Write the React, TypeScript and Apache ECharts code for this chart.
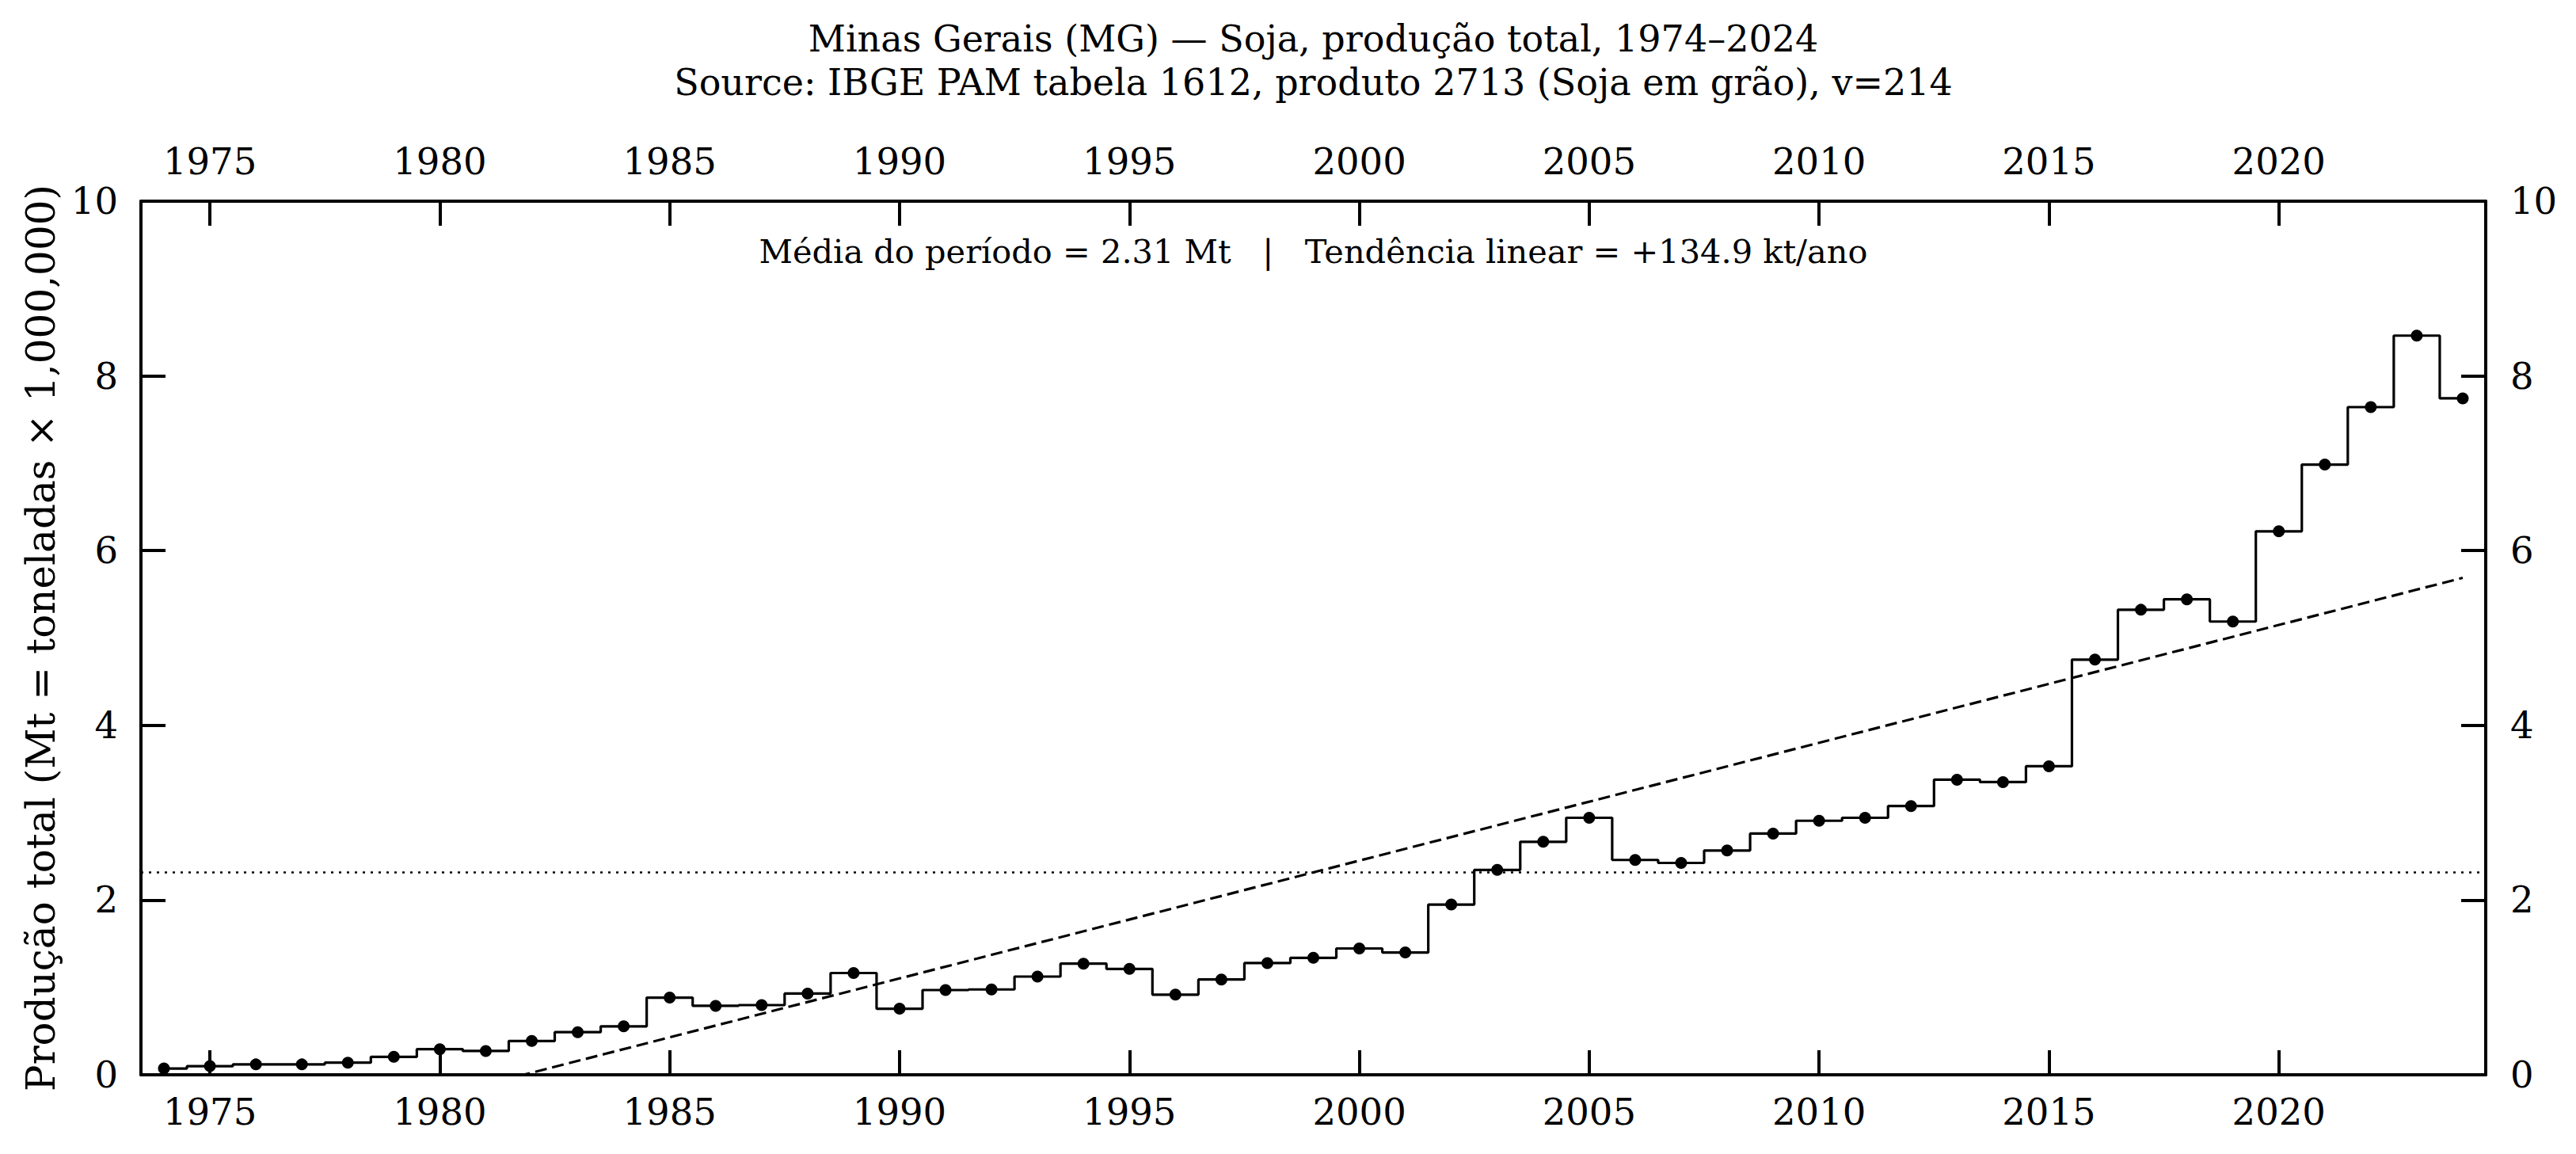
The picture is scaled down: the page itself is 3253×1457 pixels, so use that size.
import React, { useEffect, useRef } from "react";
import * as echarts from "echarts";

const years = [
  1974, 1975, 1976, 1977, 1978, 1979, 1980, 1981, 1982, 1983, 1984, 1985, 1986,
  1987, 1988, 1989, 1990, 1991, 1992, 1993, 1994, 1995, 1996, 1997, 1998, 1999,
  2000, 2001, 2002, 2003, 2004, 2005, 2006, 2007, 2008, 2009, 2010, 2011, 2012,
  2013, 2014, 2015, 2016, 2017, 2018, 2019, 2020, 2021, 2022, 2023, 2024,
];
// Production in Mt (million tonnes)
const production = [
  0.072, 0.099, 0.119, 0.119, 0.139, 0.206, 0.293, 0.273, 0.387, 0.488, 0.555,
  0.883, 0.789, 0.798, 0.93, 1.165, 0.756, 0.97, 0.977, 1.124, 1.272, 1.212,
  0.917, 1.091, 1.279, 1.339, 1.446, 1.4, 1.949, 2.345, 2.667, 2.942, 2.459,
  2.425, 2.567, 2.761, 2.908, 2.942, 3.076, 3.378, 3.351, 3.532, 4.752, 5.323,
  5.443, 5.188, 6.221, 6.985, 7.643, 8.461, 7.743,
];
const xTicks = [1975, 1980, 1985, 1990, 1995, 2000, 2005, 2010, 2015, 2020];
const yTicks = [0, 2, 4, 6, 8, 10];
const xRange = [1973.5, 2024.5];
const titleLines = [
  "Minas Gerais (MG) — Soja, produção total, 1974–2024",
  "Source: IBGE PAM tabela 1612, produto 2713 (Soja em grão), v=214",
];
const annotation =
  "Média do período = 2.31 Mt \u00a0 | \u00a0 Tendência linear = +134.9 kt/ano";
const yAxisLabel = "Produção total (Mt = toneladas × 1,000,000)";

const FONT = "'DejaVu Serif', serif";

export default function App() {
  const ref = useRef<HTMLDivElement>(null);
  useEffect(() => {
    if (!ref.current) return;
    const chart = echarts.init(ref.current, null, { renderer: "svg" });

    const n = years.length;
    const mean = production.reduce((a, b) => a + b, 0) / n;
    const mx = years.reduce((a, b) => a + b, 0) / n;
    let sxy = 0;
    let sxx = 0;
    for (let i = 0; i < n; i++) {
      sxy += (years[i] - mx) * (production[i] - mean);
      sxx += (years[i] - mx) * (years[i] - mx);
    }
    const slope = sxy / sxx;
    const icpt = mean - slope * mx;
    const x0 = years[0];
    const x1 = years[n - 1];

    const L = 178;
    const R = 3139;
    const T = 254;
    const B = 1357;
    const cx = (L + R) / 2;

    const axisCommon = (pos: string) => ({
      type: "value",
      position: pos,
      min: xRange[0],
      max: xRange[1],
      axisLine: { show: true, onZero: false, lineStyle: { color: "#000", width: 4 } },
      axisTick: {
        show: true,
        inside: true,
        length: 31,
        customValues: xTicks,
        lineStyle: { color: "#000", width: 4 },
      },
      axisLabel: {
        show: true,
        customValues: xTicks,
        fontSize: 46.5,
        fontFamily: FONT,
        color: "#000",
        margin: pos === "bottom" ? 23 : 27,
        formatter: (v: number) => String(v),
      },
      splitLine: { show: false },
    });

    const yCommon = (pos: string) => ({
      type: "value",
      position: pos,
      min: yTicks[0],
      max: yTicks[yTicks.length - 1],
      interval: 2,
      axisLine: { show: true, onZero: false, lineStyle: { color: "#000", width: 4 } },
      axisTick: { show: true, inside: true, length: 31, lineStyle: { color: "#000", width: 4 } },
      axisLabel: {
        show: true,
        fontSize: 46.5,
        fontFamily: FONT,
        color: "#000",
        margin: pos === "left" ? 29 : 31,
      },
      splitLine: { show: false },
    });

    chart.setOption({
      animation: false,
      backgroundColor: "#fff",
      textStyle: { fontFamily: FONT },
      grid: { left: L, right: 3253 - R, top: T, bottom: 1457 - B, containLabel: false },
      xAxis: [axisCommon("bottom"), axisCommon("top")],
      yAxis: [yCommon("left"), yCommon("right")],
      series: [
        {
          type: "line",
          xAxisIndex: 0,
          yAxisIndex: 0,
          data: [
            [xRange[0], mean],
            [xRange[1], mean],
          ],
          symbol: "none",
          lineStyle: { color: "#000", width: 2.5, type: [3, 7] },
          z: 2,
        },
        {
          type: "line",
          xAxisIndex: 0,
          yAxisIndex: 0,
          data: [
            [x0, icpt + slope * x0],
            [x1, icpt + slope * x1],
          ],
          symbol: "none",
          clip: true,
          lineStyle: { color: "#000", width: 3.2, type: [15, 7] },
          z: 3,
        },
        {
          type: "line",
          xAxisIndex: 0,
          yAxisIndex: 0,
          step: "middle",
          data: years.map((y, i) => [y, production[i]]),
          symbol: "circle",
          symbolSize: 15,
          showSymbol: true,
          itemStyle: { color: "#000" },
          lineStyle: { color: "#000", width: 3.2 },
          z: 4,
        },
      ],
      graphic: [
        {
          type: "text",
          x: cx,
          y: 49,
          style: {
            text: titleLines[0],
            font: `46px ${FONT}`,
            fill: "#000",
            align: "center",
            verticalAlign: "middle",
            textAlign: "center",
            textVerticalAlign: "middle",
          },
        },
        {
          type: "text",
          x: cx,
          y: 104,
          style: {
            text: titleLines[1],
            font: `46px ${FONT}`,
            fill: "#000",
            align: "center",
            verticalAlign: "middle",
            textAlign: "center",
            textVerticalAlign: "middle",
          },
        },
        {
          type: "text",
          x: cx,
          y: 317,
          style: {
            text: annotation,
            font: `41.5px ${FONT}`,
            fill: "#000",
            align: "center",
            verticalAlign: "middle",
            textAlign: "center",
            textVerticalAlign: "middle",
          },
        },
        {
          type: "text",
          x: 52,
          y: (T + B) / 2,
          rotation: Math.PI / 2,
          style: {
            text: yAxisLabel,
            font: `50px ${FONT}`,
            fill: "#000",
            align: "center",
            verticalAlign: "middle",
            textAlign: "center",
            textVerticalAlign: "middle",
          },
        },
      ],
    });
    return () => chart.dispose();
  }, []);
  return (
    <div
      ref={ref}
      style={{ position: "absolute", left: 0, top: 0, width: 3253, height: 1457, background: "#fff" }}
    />
  );
}
